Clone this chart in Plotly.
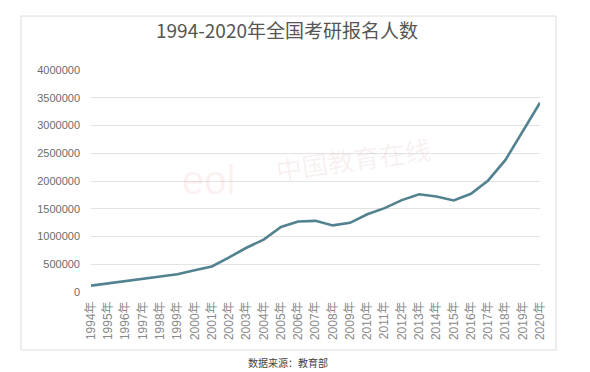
import plotly.graph_objects as go

years = [f"{y}年" for y in range(1994, 2021)]
applicants = [114000, 155000, 204000, 242000, 274000, 319000, 392000, 460000,
              624000, 797000, 945000, 1172000, 1271200, 1282000, 1200000, 1246000,
              1400000, 1511000, 1656000, 1760000, 1720000, 1649000, 1770000,
              2010000, 2380000, 2900000, 3410000]
y_ticks = [0, 500000, 1000000, 1500000, 2000000, 2500000, 3000000, 3500000, 4000000]

W, H = 590, 372
L, R, T, B = 83, 532, 62, 284

def px(x):
    return (x - L) / (R - L)

def py(y):
    return (B - y) / (B - T)

fig = go.Figure()
fig.add_trace(go.Scatter(
    x=years, y=applicants, mode="lines",
    line=dict(color="#52828f", width=2.6),
    hoverinfo="x+y", showlegend=False,
))

fig.update_layout(
    width=W, height=H,
    margin=dict(l=L, r=W - R, t=T, b=H - B),
    paper_bgcolor="white", plot_bgcolor="white",
    font=dict(family="Liberation Sans, Noto Sans CJK SC, sans-serif", color="#6b6b6b"),
    title=dict(text="1994-2020年全国考研报名人数", x=px(279), xref="paper",
               xanchor="center", y=1 - 23 / H, yanchor="middle",
               font=dict(size=19, color="#555555",
                         family="Noto Sans CJK SC, Liberation Sans, sans-serif")),
    xaxis=dict(type="category", tickangle=-90, showgrid=False, ticks="",
               showline=False, zeroline=False, ticklabelstandoff=6,
               tickfont=dict(size=12, color="#8a8a8a",
                             family="Liberation Sans, Noto Sans CJK SC, sans-serif")),
    yaxis=dict(range=[0, 4000000], tickvals=y_ticks, ticktext=[str(v) for v in y_ticks],
               showgrid=True, gridcolor="#e3e3e3", gridwidth=1, zeroline=False,
               showline=False, ticks="", ticklen=0, ticklabelstandoff=10,
               tickfont=dict(size=11, color="#6b6b6b")),
    shapes=[
        dict(type="rect", xref="paper", yref="paper",
             x0=px(13), x1=px(548), y0=py(342), y1=py(8),
             line=dict(color="#dcdcdc", width=1), layer="below"),
    ],
    annotations=[
        dict(text="数据来源：教育部", xref="paper", yref="paper",
             x=px(280), y=py(354), showarrow=False, xanchor="center", yanchor="middle",
             font=dict(size=10, color="#444444",
                       family="Noto Sans CJK SC, sans-serif")),
        dict(text="中国教育在线", xref="paper", yref="paper",
             x=px(345), y=py(150), showarrow=False, xanchor="center", yanchor="middle",
             textangle=-8,
             font=dict(size=26, color="rgba(200,130,130,0.12)",
                       family="Noto Sans CJK SC, sans-serif")),
        dict(text="eol", xref="paper", yref="paper",
             x=px(200), y=py(172), showarrow=False, xanchor="center", yanchor="middle",
             font=dict(size=40, color="rgba(230,100,100,0.10)",
                       family="Liberation Sans, sans-serif")),
    ],
)

fig.write_html("out.html")
